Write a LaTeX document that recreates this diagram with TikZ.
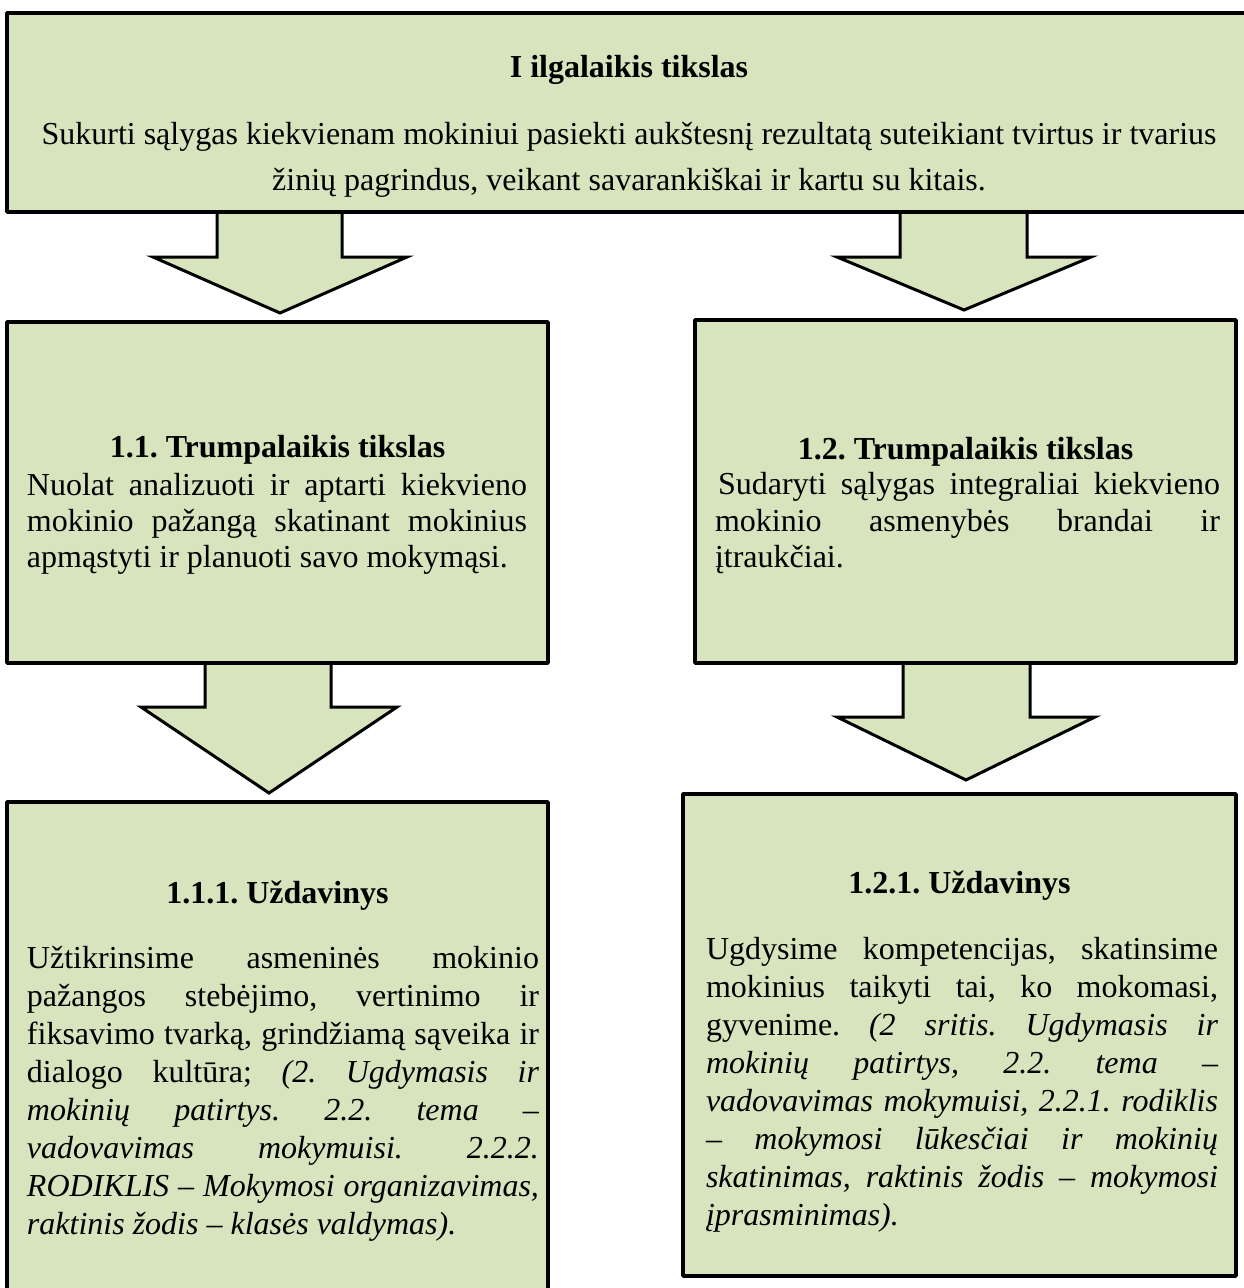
\documentclass[tikz,border=0pt]{standalone}
\usepackage{fontspec}
\setmainfont{Liberation Serif}
\usetikzlibrary{calc}
\pgfdeclarelayer{background}
\pgfsetlayers{background,main}
\definecolor{boxgreen}{HTML}{D7E4BD}
\tikzset{
  box/.style={draw=black, fill=boxgreen, line width=3.5pt, line join=round, rectangle, inner sep=0pt, outer sep=0pt, anchor=north west},
  blockarr/.style={draw=black, fill=boxgreen, line width=3pt, line join=miter},
  txt/.style={inner sep=0pt, outer sep=0pt, font=\fontsize{32}{38}\selectfont\frenchspacing, anchor=base west},
  ctxt/.style={txt, anchor=base},
  ttl/.style={ctxt, font=\fontsize{32}{38}\selectfont\frenchspacing\bfseries},
}
\newcommand\jline[2]{\makebox[#1][s]{#2}}
\begin{document}
\frenchspacing
\begin{tikzpicture}[x=1pt,y=-1pt]
\useasboundingbox (0,0) rectangle (1243,1288);
% boxes
\node[box, minimum width=1250pt, minimum height=199pt] (top) at (7,13) {};
\node[box, minimum width=541pt, minimum height=341pt] (b11) at (7,322) {};
\node[box, minimum width=541pt, minimum height=343pt] (b12) at (695,320) {};
\node[box, minimum width=541pt, minimum height=520pt] (b111) at (7,802) {};
\node[box, minimum width=553pt, minimum height=482pt] (b121) at (683,794) {};
% block arrows
\begin{pgfonlayer}{background}
\draw[blockarr] (217,0 |- top.south) -- (217,257) -- (153,257) -- (280,313) -- (407,257) -- (342,257) -- (342,0 |- top.south) -- cycle;
\draw[blockarr] (900,0 |- top.south) -- (900,257) -- (837,257) -- (964,310) -- (1091,257) -- (1027,257) -- (1027,0 |- top.south) -- cycle;
\draw[blockarr] (205,0 |- b11.south) -- (205,707) -- (141,707) -- (269,793) -- (397,707) -- (331,707) -- (331,0 |- b11.south) -- cycle;
\draw[blockarr] (903,0 |- b12.south) -- (903,717) -- (837,717) -- (966,780) -- (1095,717) -- (1030,717) -- (1030,0 |- b12.south) -- cycle;
\end{pgfonlayer}
% top box text
\node[ttl] (t0) at (629,77) {I ilgalaikis tikslas};
\node[ctxt] (t1) at (629,144) {Sukurti sąlygas kiekvienam mokiniui pasiekti aukštesnį rezultatą suteikiant tvirtus ir tvarius};
\node[ctxt] (t2) at (629,190) {žinių pagrindus, veikant savarankiškai ir kartu su kitais.};
% box 1.1
\node[ttl] (p0) at (277.5,457) {1.1. Trumpalaikis tikslas};
\node[txt] (p1) at (27,495) {\jline{500pt}{Nuolat analizuoti ir aptarti kiekvieno}};
\node[txt] (p2) at (27,531) {\jline{500pt}{mokinio pažangą skatinant mokinius}};
\node[txt] (p3) at (27,567) {apmąstyti ir planuoti savo mokymąsi.};
% box 1.2
\node[ttl] (q0) at (965.5,459) {1.2. Trumpalaikis tikslas};
\node[txt] (q1) at (718,494) {\jline{502pt}{Sudaryti sąlygas integraliai kiekvieno}};
\node[txt] (q2) at (715,531) {\jline{505pt}{mokinio asmenybės brandai ir}};
\node[txt] (q3) at (715,567) {įtraukčiai.};
% box 1.1.1
\node[ttl] (r0) at (277.5,903) {1.1.1. Uždavinys};
\node[txt] (r1) at (27,968) {\jline{512pt}{Užtikrinsime asmeninės mokinio}};
\node[txt] (r2) at (27,1006) {\jline{512pt}{pažangos stebėjimo, vertinimo ir}};
\node[txt] (r3) at (27,1044) {\jline{512pt}{fiksavimo tvarką, grindžiamą sąveika ir}};
\node[txt] (r4) at (27,1082) {\jline{512pt}{dialogo kultūra; \itshape(2. Ugdymasis ir}};
\node[txt] (r5) at (27,1120) {\jline{512pt}{\itshape mokinių patirtys. 2.2. tema –}};
\node[txt] (r6) at (27,1158) {\jline{512pt}{\itshape vadovavimas mokymuisi. 2.2.2.}};
\node[txt] (r7) at (27,1196) {\jline{512pt}{\itshape RODIKLIS – Mokymosi organizavimas,}};
\node[txt] (r8) at (27,1234) {\itshape raktinis žodis – klasės valdymas).};
% box 1.2.1
\node[ttl] (s0) at (959.5,893) {1.2.1. Uždavinys};
\node[txt] (s1) at (706,959) {\jline{512pt}{Ugdysime kompetencijas, skatinsime}};
\node[txt] (s2) at (706,997) {\jline{512pt}{mokinius taikyti tai, ko mokomasi,}};
\node[txt] (s3) at (706,1035) {\jline{512pt}{gyvenime. \itshape(2 sritis. Ugdymasis ir}};
\node[txt] (s4) at (706,1073) {\jline{512pt}{\itshape mokinių patirtys, 2.2. tema –}};
\node[txt] (s5) at (706,1111) {\jline{512pt}{\itshape vadovavimas mokymuisi, 2.2.1. rodiklis}};
\node[txt] (s6) at (706,1149) {\jline{512pt}{\itshape – mokymosi lūkesčiai ir mokinių}};
\node[txt] (s7) at (706,1187) {\jline{512pt}{\itshape skatinimas, raktinis žodis – mokymosi}};
\node[txt] (s8) at (706,1225) {\itshape įprasminimas).};
\end{tikzpicture}
\end{document}
